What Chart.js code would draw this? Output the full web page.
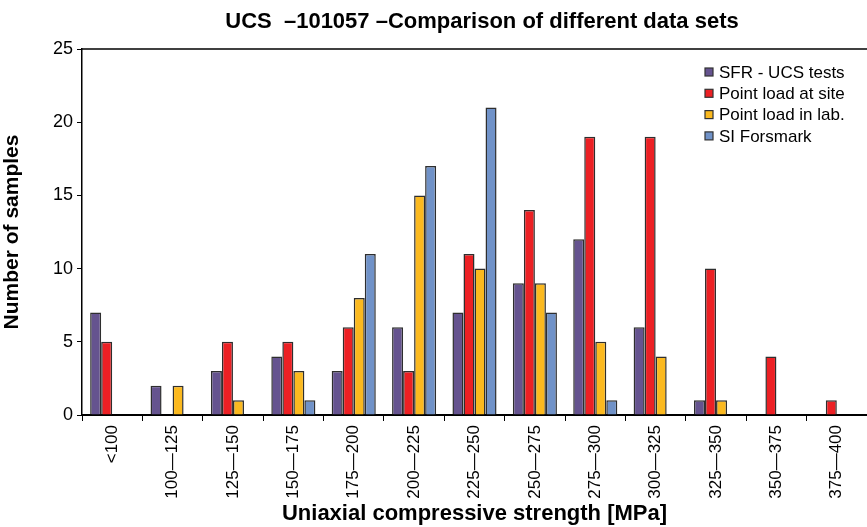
<!DOCTYPE html>
<html lang="en">
<head>
  <meta charset="UTF-8" />
  <title>UCS 101057</title>
  <script src="https://cdn.jsdelivr.net/npm/chart.js"></script>
  <style>
    html, body { margin: 0; padding: 0; background: #fff; }
    #wrap { width: 867px; height: 527px; }
  </style>
</head>
<body>
  <div id="wrap"><canvas id="ucsChart" width="867" height="527"></canvas></div>

  <script>
    // strength classes (MPa)
    const classes = ["<100", "100—125", "125—150", "150—175", "175—200", "200—225", "225—250",
                     "250—275", "275—300", "300—325", "325—350", "350—375", "375—400"];

    const sfrUcs      = [7, 2, 3, 4, 3, 6, 7, 9, 12, 6, 1, 0, 0];
    const pointSite   = [5, 0, 5, 5, 6, 3, 11, 14, 19, 19, 10, 4, 1];
    const pointLab    = [0, 2, 1, 3, 8, 15, 10, 9, 5, 4, 1, 0, 0];
    const siForsmark  = [0, 0, 0, 1, 11, 17, 21, 7, 1, 0, 0, 0, 0];

    const seriesNames = ["SFR - UCS tests", "Point load at site", "Point load in lab.", "SI Forsmark"];
    const yTicks = [0, 5, 10, 15, 20, 25];

    const colors = ["#65538f", "#ec2024", "#fbb91f", "#7092c8"];
    const font = "'Liberation Sans', Arial, sans-serif";

    // title, top frame line and the boxed legend
    const extras = {
      id: "extras",
      afterDraw(chart) {
        const ctx = chart.ctx;
        const area = chart.chartArea;
        ctx.save();
        ctx.strokeStyle = "#000";
        ctx.lineWidth = 1.5;
        ctx.beginPath();
        ctx.moveTo(area.left, area.top);
        ctx.lineTo(area.right, area.top);
        ctx.stroke();

        ctx.fillStyle = "#000";
        ctx.font = "bold 22px " + font;
        ctx.textAlign = "center";
        ctx.textBaseline = "middle";
        ctx.fillText("UCS  –101057 –Comparison of different data sets", 482, 22);

        ctx.font = "17px " + font;
        ctx.textAlign = "left";
        chart.data.datasets.forEach((ds, i) => {
          const y = 72 + i * 21.3;
          ctx.fillStyle = ds.backgroundColor;
          ctx.fillRect(705, y - 4, 8, 8);
          ctx.strokeStyle = "#333";
          ctx.lineWidth = 1.2;
          ctx.strokeRect(705, y - 4, 8, 8);
          ctx.fillStyle = "#000";
          ctx.fillText(ds.label, 719, y + 1);
        });
        ctx.restore();
      }
    };

    const makeSet = (i, data) => ({
      label: seriesNames[i],
      data: data,
      backgroundColor: colors[i],
      borderColor: "#2e2e2e",
      borderWidth: 1.5,
      barPercentage: 1.0,
      categoryPercentage: 0.73
    });

    new Chart(document.getElementById("ucsChart").getContext("2d"), {
      type: "bar",
      data: {
        labels: classes,
        datasets: [
          makeSet(0, sfrUcs),
          makeSet(1, pointSite),
          makeSet(2, pointLab),
          makeSet(3, siForsmark)
        ]
      },
      options: {
        responsive: false,
        animation: false,
        layout: { padding: { top: 49, left: 0, right: 0, bottom: 0 } },
        plugins: {
          legend: { display: false },
          title: { display: false },
          tooltip: { enabled: false }
        },
        scales: {
          x: {
            afterFit: (scale) => { scale.height = 112; },
            border: { color: "#000", width: 2 },
            grid: { offset: true, drawOnChartArea: false, tickLength: 6, color: "#000" },
            ticks: {
              color: "#000",
              font: { family: font, size: 17 },
              minRotation: 90,
              maxRotation: 90,
              autoSkip: false,
              padding: 4
            },
            title: {
              display: true,
              text: "Uniaxial compressive strength [MPa]",
              color: "#000",
              font: { family: font, size: 22, weight: "bold" },
              padding: { top: 0, bottom: 0 }
            }
          },
          y: {
            min: 0,
            max: 25,
            afterFit: (scale) => { scale.width = 82; },
            afterBuildTicks: (scale) => { scale.ticks = yTicks.map(v => ({ value: v })); },
            border: { color: "#000", width: 1.5 },
            grid: { drawOnChartArea: false, tickLength: 5, color: "#000" },
            ticks: {
              color: "#000",
              font: { family: font, size: 18 },
              padding: 4
            },
            title: {
              display: true,
              text: "Number of samples",
              color: "#000",
              font: { family: font, size: 21, weight: "bold" },
              padding: { top: 0, bottom: 6 }
            }
          }
        }
      },
      plugins: [extras]
    });
  </script>
</body>
</html>
